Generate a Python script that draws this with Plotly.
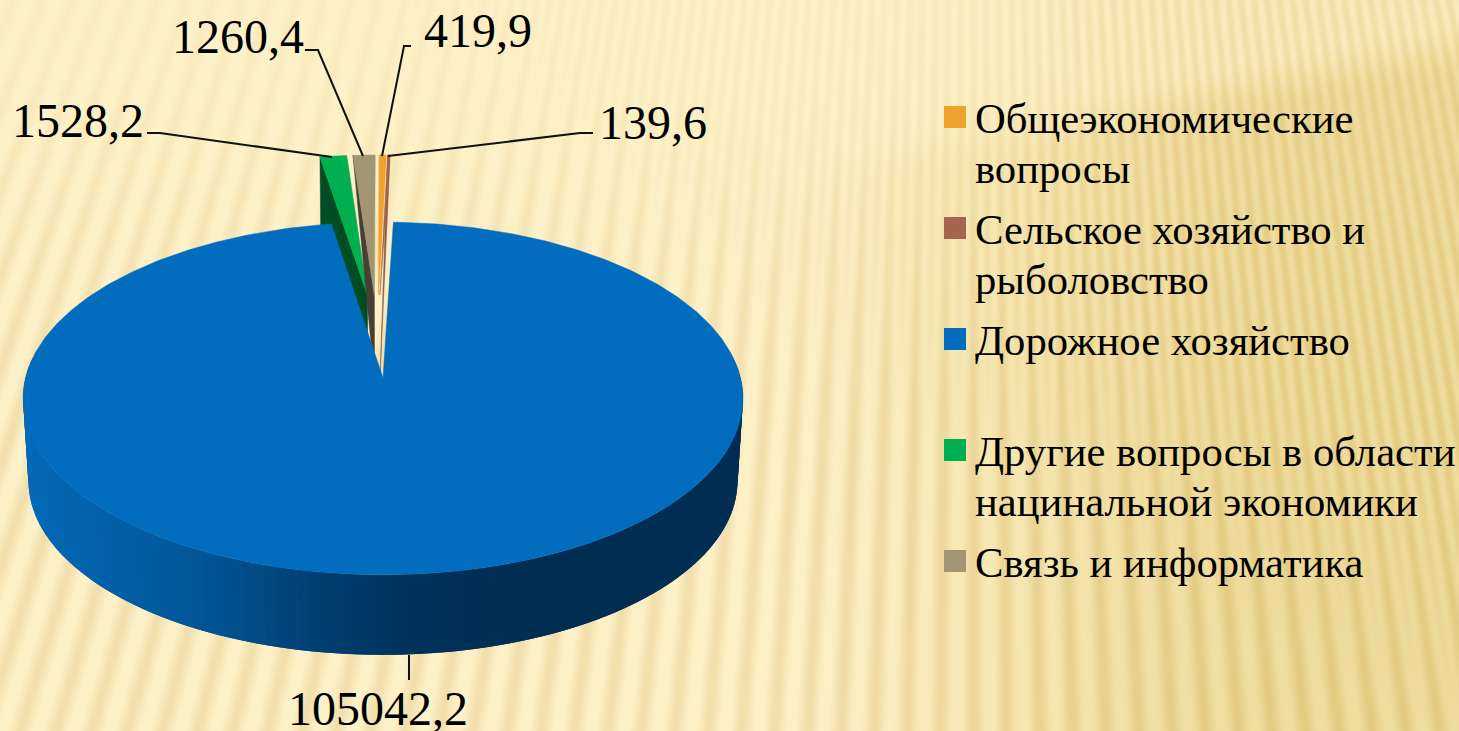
import base64, struct, zlib
import numpy as np
import plotly.graph_objects as go

# ---------- data ----------
categories = ["Общеэкономические вопросы", "Сельское хозяйство и рыболовство", "Дорожное хозяйство",
              "Другие вопросы в области нацинальной экономики", "Связь и информатика"]
values = [419.9, 139.6, 105042.2, 1528.2, 1260.4]
colors = ["#F0A22E", "#A5644E", "#026DBF", "#00B050", "#A19574"]
wall_colors = ["#B5782A", "#8C5A49", None, "#004D23", "#463F33"]
legend_lines = [["Общеэкономические", "вопросы"], ["Сельское хозяйство и", "рыболовство"],
                ["Дорожное хозяйство"], ["Другие вопросы в области", "нацинальной экономики"],
                ["Связь и информатика"]]
W, H = 1459, 731

# ---------- pie projection ----------
cx, cy = 383.0, 378.0
A, B, k = 357.5, 174.0, 0.116
EXPLODE = 0.253
s, DEPTH = 0.985, 83.0


def proj(X, Z, low=False):
    f = 1 + k * Z
    u, v = A * X / f, B * Z / f
    if low:
        return cx + s * u, cy - s * v + DEPTH
    return cx + u, cy - v


total = sum(values)
edges = np.concatenate([[0], np.cumsum(values)]) / total * 2 * np.pi
mids = (edges[:-1] + edges[1:]) / 2
blue = 2


def apex(i):
    return (EXPLODE * (np.sin(mids[i]) - np.sin(mids[blue])),
            EXPLODE * (np.cos(mids[i]) - np.cos(mids[blue])))


def rim(i, th, low=False):
    ax, az = apex(i)
    return proj(ax + np.sin(th), az + np.cos(th), low)


# ---------- background ----------
def png_uri(img):
    h, w, _ = img.shape
    raw = b"".join(b"\x00" + img[r].tobytes() for r in range(h))

    def chunk(t, d):
        return struct.pack(">I", len(d)) + t + d + struct.pack(">I", zlib.crc32(t + d))

    data = (b"\x89PNG\r\n\x1a\n" + chunk(b"IHDR", struct.pack(">IIBBBBB", w, h, 8, 2, 0, 0, 0)) +
            chunk(b"IDAT", zlib.compress(raw, 9)) + chunk(b"IEND", b""))
    return "data:image/png;base64," + base64.b64encode(data).decode()


def smooth(a):
    a = np.clip(a, 0, 1)
    return a * a * (3 - 2 * a)


yy, xx = np.mgrid[0:H, 0:W].astype(float)
theta = np.arctan2(xx - 973, yy + 2418)
phi = theta / 0.0105 * 2 * np.pi
w_low = np.clip(yy / 300 + (700 - xx) / 500, 0, 1)
stripe = (1 - w_low) * (0.5 + 0.5 * np.cos(2 * phi)) + w_low * (0.5 + 0.5 * np.cos(phi)) ** 1.5
t_x = smooth((xx - 700) / 600)
edge_line = 40 + (1440 - xx) * 0.19
t = t_x * (0.3 + 0.7 * smooth((yy - edge_line + 20) / 60))
light = np.stack([254 - 14 * t, 242 - 20 * t, 201 - 42 * t], -1)
amp_top = 0.28 + 0.35 * smooth((xx - 950) / 250)
amp = (amp_top + (0.85 - amp_top) * smooth(yy / 450))[..., None]
img = light - amp * stripe[..., None] * np.array([14.0, 22.0, 34.0])
bg_uri = png_uri(np.clip(img, 0, 255).astype(np.uint8))

fig = go.Figure()


def poly(pts, color, lw=0.5):
    x, y = zip(*pts)
    fig.add_trace(go.Scatter(x=list(x) + [x[0]], y=list(y) + [y[0]], mode="lines", fill="toself",
                             fillcolor=color, line=dict(color=color, width=lw),
                             hoverinfo="skip", showlegend=False))


def arc(i, low=False, n=None):
    n = n or max(4, int((edges[i + 1] - edges[i]) * 60))
    return [rim(i, th, low) for th in np.linspace(edges[i], edges[i + 1], n)]


# small slices behind the big one
for i in [3, 4, 1, 0]:
    tip_top = proj(*apex(i))
    tip_low = proj(*apex(i), low=True)
    a = arc(i)
    if i == 3:
        poly([a[0], rim(i, edges[i], True), tip_low, tip_top], wall_colors[i])
    elif i == 4:
        poly([a[0], tip_low, tip_top], wall_colors[i])
    elif i == 1:
        poly(a + [tip_low], wall_colors[i])
    poly([tip_top] + a, colors[i])

# blue side wall with horizontal shading; each band is overlapped by the next one
stops_x = [24, 200, 300, 410, 520, 743]
stops_c = np.array([[4, 106, 186], [1, 86, 150], [1, 66, 120], [0, 50, 92], [0, 45, 82], [0, 45, 82]], float)
ths = np.linspace(np.pi / 2 - 0.12, 3 * np.pi / 2 + 0.12, 120)
order = np.argsort([-np.sin(th) for th in ths])
for idx in range(len(ths) - 1):
    # runs from the right end of the wall (low angle) to its left end
    a0 = ths[idx]
    a1 = ths[min(idx + 2, len(ths) - 1)]
    t0, t1 = rim(blue, a0), rim(blue, a1)
    b0, b1 = rim(blue, a0, True), rim(blue, a1, True)
    mx = rim(blue, (ths[idx] + ths[idx + 1]) / 2)[0]
    c = [np.interp(mx, stops_x, stops_c[:, j]) for j in range(3)]
    poly([t0, t1, b1, b0], "rgb(%d,%d,%d)" % tuple(c), lw=0)

# blue top face
poly([proj(0, 0)] + arc(blue, n=400), colors[blue])

# leader lines
leaders = {
    3: [(147, 133), (160, 133), (332, 157)],
    4: [(305, 50), (318, 50), (363, 156)],
    0: [(411, 46), (404, 46), (382, 156)],
    1: [(593, 133), (580, 133), (388, 156)],
    2: [(409, 655), (409, 680)],
}
for pts in leaders.values():
    fig.add_trace(go.Scatter(x=[p[0] for p in pts], y=[p[1] for p in pts], mode="lines",
                             line=dict(color="#111111", width=2), hoverinfo="skip", showlegend=False))

# data labels
label_pos = {3: (78, 120), 4: (237.5, 36), 0: (477.5, 30), 1: (653, 122), 2: (378, 708)}
ann = []
FONT = "Liberation Serif"
for i, (x, y) in label_pos.items():
    ann.append(dict(x=x, y=y, xref="x", yref="y", showarrow=False, xanchor="center", yanchor="middle",
                    text=f"{values[i]:.1f}".replace(".", ","), font=dict(family=FONT, size=48, color="#000000")))

# legend
leg_y = [117 + 111 * i for i in range(5)]
fig.add_trace(go.Scatter(x=[955] * 5, y=leg_y, mode="markers", hovertext=categories, hoverinfo="text",
                         marker=dict(symbol="square", size=22, color=colors), showlegend=False))
for yb, lines in zip(leg_y, legend_lines):
    for j, ln in enumerate(lines):
        ann.append(dict(x=973, y=yb + 1 + 50 * j, xref="x", yref="y", showarrow=False, xanchor="left",
                        yanchor="middle", text=ln, font=dict(family=FONT, size=42.67, color="#000000")))

fig.update_layout(
    width=W, height=H, margin=dict(l=0, r=0, t=0, b=0), showlegend=False,
    paper_bgcolor="#FDF1C8", plot_bgcolor="rgba(0,0,0,0)",
    xaxis=dict(range=[0, W], visible=False, fixedrange=True),
    yaxis=dict(range=[H, 0], visible=False, fixedrange=True),
    images=[dict(source=bg_uri, xref="x", yref="y", x=0, y=0, sizex=W, sizey=H, sizing="stretch",
                 xanchor="left", yanchor="top", layer="below")],
    annotations=ann,
)
fig.write_html("out.html", config={"displayModeBar": False},
               post_script="document.body.style.margin='0';document.documentElement.style.overflow='hidden';")
